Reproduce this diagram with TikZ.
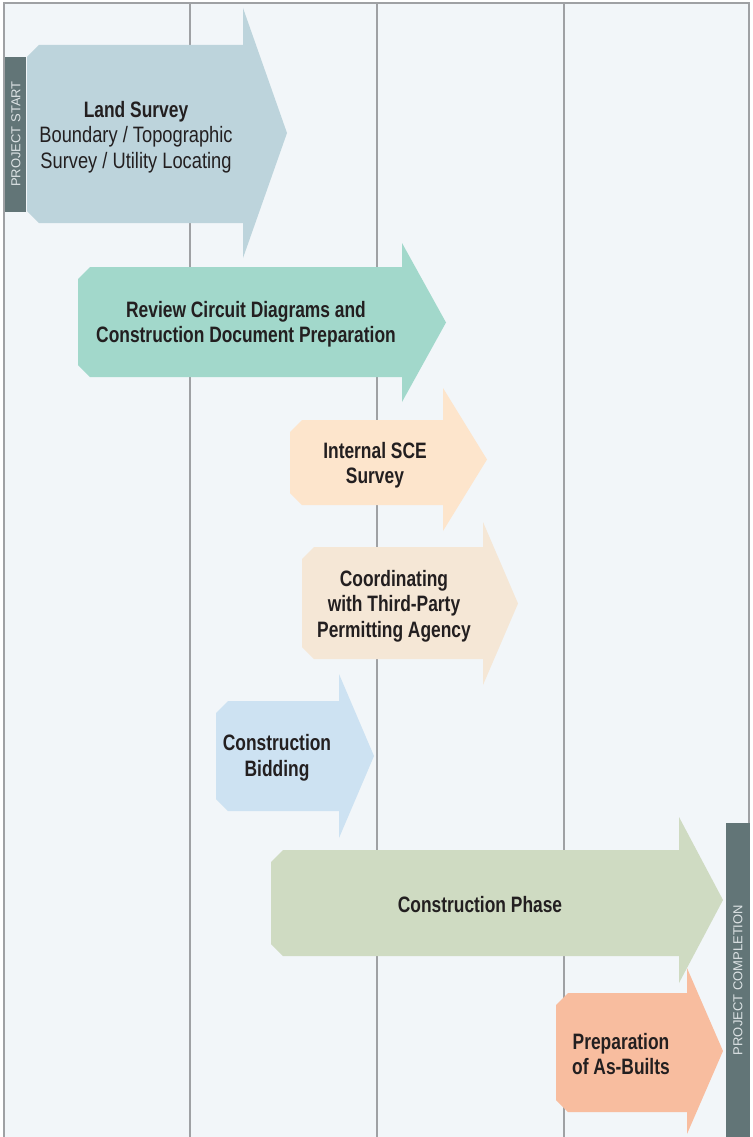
\documentclass[tikz,border=0pt]{standalone}
\usepackage{fontspec}
\setmainfont{Liberation Sans}[FakeStretch=0.78]
\newfontfamily\regfont{Liberation Sans}[FakeStretch=0.82]
\newfontfamily\barfont{Liberation Sans}
\definecolor{bg}{HTML}{F2F6F9}
\definecolor{grid}{HTML}{9FA1A4}
\definecolor{cA}{HTML}{BDD4DC}
\definecolor{cB}{HTML}{A2D8CB}
\definecolor{cC}{HTML}{FDE5CC}
\definecolor{cD}{HTML}{F5E7D6}
\definecolor{cE}{HTML}{CDE2F2}
\definecolor{cF}{HTML}{CFDBC2}
\definecolor{cG}{HTML}{F8BD9F}
\definecolor{barc}{HTML}{627577}
\definecolor{txt}{HTML}{231F20}
\definecolor{bartxt}{HTML}{DDE3E5}
% #1 color, #2 left x, #3 body top, #4 body bottom, #5 head x, #6 head top, #7 head bottom, #8 tip x
\newcommand{\bigarrow}[8]{%
  \fill[#1] (#2+12,#3) -- (#5,#3) -- (#5,#6) -- (#8,{(#6+#7)/2}) -- (#5,#7) -- (#5,#4)
    -- (#2+12,#4) -- (#2,#4-12) -- (#2,#3+12) -- cycle;}
\begin{document}
\begin{tikzpicture}[x=1pt,y=-1pt,
  lbl/.style={text=txt,align=center,font=\fontsize{22.3}{25.5}\selectfont\bfseries,inner sep=0pt},
  gridline/.style={draw=grid,line width=2pt},
  bartext/.style={text=bartxt,font=\barfont\fontsize{13}{13}\selectfont,rotate=90,inner sep=0pt}]
\useasboundingbox (0,0) rectangle (752,1137);
\fill[white] (0,0) rectangle (752,1137);
\fill[bg] (4,3) rectangle (749,1137);
\draw[gridline] (4,1137) -- (4,3) -- (749,3) -- (749,1137);
\foreach \gx in {190,377,564} \draw[gridline] (\gx,3) -- (\gx,1137);
% arrows
\bigarrow{cA}{27}{45}{223}{243}{8}{258}{287}
\bigarrow{cB}{78}{267}{377}{402}{243}{402}{446}
\bigarrow{cC}{290}{420}{505}{443}{388}{531}{487}
\bigarrow{cD}{302}{547}{659}{483}{522}{685}{518}
\bigarrow{cE}{216}{701}{811}{339}{674}{838}{374}
\bigarrow{cF}{271}{850}{956}{679}{817}{983}{723}
\bigarrow{cG}{556}{993}{1112}{687}{968}{1134}{723}
% bars
\fill[barc] (5,57) rectangle (26,212);
\node[bartext] (ps) at (16,134) {PROJECT START};
\fill[barc] (726,823) rectangle (750,1137);
\node[bartext] (pc) at (738,980) {PROJECT COMPLETION};
% labels
\node[lbl] (a) at (136,137) {Land Survey\\\regfont\mdseries\fontsize{22.3}{25.5}\selectfont Boundary / Topographic\\\regfont\mdseries\fontsize{22.3}{25.5}\selectfont Survey / Utility Locating};
\node[lbl] (b) at (246,324) {Review Circuit Diagrams and\\Construction Document Preparation};
\node[lbl] (c) at (375,465) {Internal SCE\\Survey};
\node[lbl] (d) at (394,606) {Coordinating\\with Third-Party\\Permitting Agency};
\node[lbl] (e) at (277,758) {Construction\\Bidding};
\node[lbl] (f) at (480,905) {Construction Phase};
\node[lbl] (g) at (621,1054) {Preparation\\of As-Builts};
\end{tikzpicture}
\end{document}
